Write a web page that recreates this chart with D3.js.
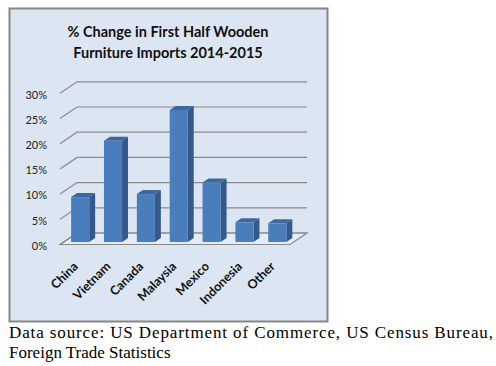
<!DOCTYPE html>
<html>
<head>
<meta charset="utf-8">
<script src="https://cdn.jsdelivr.net/npm/d3@7"></script>
<style>
  body { margin: 0; background: #fff; }
  svg { display: block; }
</style>
</head>
<body>
<div id="chart"></div>
<script>
var categories = ["China", "Vietnam", "Canada", "Malaysia", "Mexico", "Indonesia", "Other"];
var values = [8.9, 20.1, 9.5, 26.2, 11.8, 3.9, 3.7];
var yTicks = [0, 5, 10, 15, 20, 25, 30];
var titleLines = ["% Change in First Half Wooden", "Furniture Imports 2014-2015"];
var sourceLines = ["Data source: US Department of Commerce, US Census Bureau,", "Foreign Trade Statistics"];

var W = 496, H = 366;
// depth offset from front plane to back wall
var DX = 17, DY = -11.5;
var zFront = 0.22, zBack = 0.57;

var svg = d3.select("#chart").append("svg")
    .attr("width", W)
    .attr("height", H);

// chart area box
svg.append("rect")
    .attr("x", 9.5).attr("y", 8.5)
    .attr("width", 318).attr("height", 313)
    .style("fill", "#dce6f2")
    .style("stroke", "#878787")
    .style("stroke-width", 2);

svg.append("g")
    .selectAll("text")
    .data(titleLines)
  .enter().append("text")
    .attr("x", 168)
    .attr("y", function(d, i) { return 37 + i * 20.5; })
    .style("text-anchor", "middle")
    .style("font-family", "Lato, 'Open Sans', sans-serif")
    .style("font-weight", "bold")
    .style("font-size", "14.5px")
    .style("fill", "#111")
    .text(function(d) { return d; });

var x = d3.scaleBand()
    .domain(categories)
    .range([60, 290])
    .paddingInner(0.45)
    .paddingOuter(0.225);

var y = d3.scaleLinear()
    .domain([0, 30])
    .range([244.5, 244.5 - 151.2]);

var grid = "#8a8a8a";

// floor
var x0 = x.range()[0], x1 = x.range()[1], yb = y(0);
svg.append("path")
    .attr("d", "M" + x0 + "," + yb + "L" + x1 + "," + yb +
               "L" + (x1 + DX) + "," + (yb + DY) + "L" + (x0 + DX) + "," + (yb + DY) + "Z")
    .style("fill", "#e3ebf5")
    .style("stroke", grid)
    .style("stroke-width", 1.2);

// gridlines: diagonal on left edge, then along the back wall
svg.append("g")
    .selectAll("path")
    .data(yTicks)
  .enter().append("path")
    .attr("d", function(d) {
      return "M" + x0 + "," + y(d) + "L" + (x0 + DX) + "," + (y(d) + DY) +
             "L" + (x1 + DX) + "," + (y(d) + DY);
    })
    .style("fill", "none")
    .style("stroke", grid)
    .style("stroke-width", 1.2);

svg.append("g")
    .selectAll("text")
    .data(yTicks)
  .enter().append("text")
    .attr("x", 47)
    .attr("y", function(d) { return y(d) + 1.5; })
    .attr("dy", ".35em")
    .style("text-anchor", "end")
    .style("font-family", "Lato, 'Open Sans', sans-serif")
    .style("font-size", "11px")
    .style("fill", "#222")
    .text(function(d) { return d + "%"; });

// 3d bars
var bw = x.bandwidth();
var bars = svg.append("g")
    .selectAll("g")
    .data(values)
  .enter().append("g");

function pt(px, py) { return px + "," + py; }

bars.append("path")   // side
    .attr("d", function(d, i) {
      var xr = x(categories[i]) + bw;
      return "M" + pt(xr + zFront * DX, y(d) + zFront * DY) +
             "L" + pt(xr + zBack * DX, y(d) + zBack * DY) +
             "L" + pt(xr + zBack * DX, y(0) + zBack * DY) +
             "L" + pt(xr + zFront * DX, y(0) + zFront * DY) + "Z";
    })
    .style("fill", "#34598a");

bars.append("path")   // top
    .attr("d", function(d, i) {
      var xl = x(categories[i]), xr = xl + bw;
      return "M" + pt(xl + zFront * DX, y(d) + zFront * DY) +
             "L" + pt(xr + zFront * DX, y(d) + zFront * DY) +
             "L" + pt(xr + zBack * DX, y(d) + zBack * DY) +
             "L" + pt(xl + zBack * DX, y(d) + zBack * DY) + "Z";
    })
    .style("fill", "#3c68a0");

bars.append("rect")   // front
    .attr("x", function(d, i) { return x(categories[i]) + zFront * DX; })
    .attr("y", function(d) { return y(d) + zFront * DY; })
    .attr("width", bw)
    .attr("height", function(d) { return y(0) - y(d); })
    .style("fill", "#4a7dbb");

// category labels, rotated
svg.append("g")
    .selectAll("text")
    .data(categories)
  .enter().append("text")
    .attr("transform", function(d) {
      return "translate(" + (x(d) + bw / 2 - 4) + "," + 261 + ") rotate(-45)";
    })
    .attr("dy", ".7em")
    .style("text-anchor", "end")
    .style("font-family", "Lato, 'Open Sans', sans-serif")
    .style("font-weight", "bold")
    .style("font-size", "12.5px")
    .style("fill", "#111")
    .text(function(d) { return d; });

// source note below the chart
svg.append("text")
    .attr("x", 9)
    .attr("y", 338)
    .attr("textLength", 484)
    .attr("lengthAdjust", "spacing")
    .style("font-family", "'Liberation Serif', 'Times New Roman', serif")
    .style("font-size", "17px")
    .style("fill", "#000")
    .text(sourceLines[0]);

svg.append("text")
    .attr("x", 9)
    .attr("y", 358)
    .style("font-family", "'Liberation Serif', 'Times New Roman', serif")
    .style("font-size", "17px")
    .style("fill", "#000")
    .text(sourceLines[1]);
</script>
</body>
</html>
